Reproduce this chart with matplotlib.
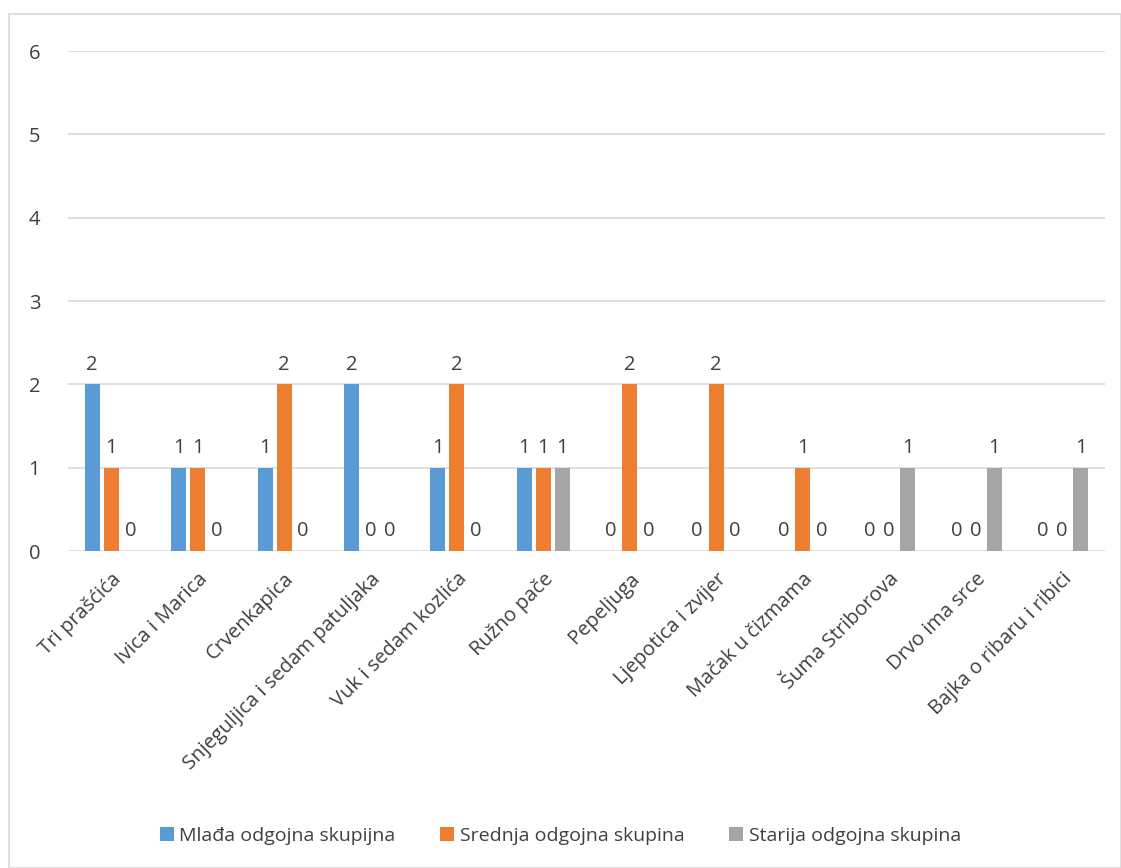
import matplotlib.pyplot as plt
import matplotlib.patches as patches
import numpy as np

plt.rcParams['font.family'] = ['Open Sans', 'DejaVu Sans']

bajke = ["Tri prašćića", "Ivica i Marica", "Crvenkapica", "Snjeguljica i sedam patuljaka",
         "Vuk i sedam kozlića", "Ružno pače", "Pepeljuga", "Ljepotica i zvijer",
         "Mačak u čizmama", "Šuma Striborova", "Drvo ima srce", "Bajka o ribaru i ribici"]
mlada = [2, 1, 1, 2, 1, 1, 0, 0, 0, 0, 0, 0]
srednja = [1, 1, 2, 0, 2, 1, 2, 2, 1, 0, 0, 0]
starija = [0, 0, 0, 0, 0, 1, 0, 0, 0, 1, 1, 1]

serije = [("Mlađa odgojna skupijna", mlada, "#5B9BD5"),
          ("Srednja odgojna skupina", srednja, "#ED7D31"),
          ("Starija odgojna skupina", starija, "#A5A5A5")]

fig = plt.figure(figsize=(11.21, 8.68), dpi=100)
ax = fig.add_axes([0.0607, 0.3652, 0.925, 0.576])

# okvir oko grafikona
fig.patches.append(patches.Rectangle((9/1121, 0), 1 - 9/1121, 1 - 14/868, transform=fig.transFigure,
                                     fill=False, edgecolor="#D9D9D9", lw=1.2))

x = np.arange(len(bajke))
w = 0.174
step = 0.22
tc = "#404040"
fs = 14.5
for i, (ime, vals, boja) in enumerate(serije):
    pos = x + (i - 1) * step
    ax.bar(pos, vals, width=w, color=boja, label=ime, zorder=3)
    for xp, v in zip(pos, vals):
        ax.annotate(str(v), (xp, v), xytext=(0, 7), textcoords="offset points",
                    ha="center", va="bottom", fontsize=fs, color=tc)

ax.set_xlim(-0.5, len(bajke) - 0.5)
ax.set_ylim(0, 6)
ax.set_yticks(range(7))
ax.grid(axis="y", color="#D9D9D9", lw=1.2, zorder=0)
for s in ax.spines.values():
    s.set_visible(False)
ax.tick_params(length=0, labelsize=fs, colors=tc)
ax.tick_params(axis="y", pad=20)
ax.set_xticks(x)
ax.set_xticklabels(bajke, rotation=45, ha="right", rotation_mode="anchor")
ax.tick_params(axis="x", pad=13)

fig.legend(loc="center", bbox_to_anchor=(0.5, 1 - 836/868), ncol=3, frameon=False,
           fontsize=14, labelcolor=tc, handlelength=0.7, handleheight=0.7,
           handletextpad=0.3, columnspacing=2.3)

fig.savefig("out.png", dpi=100)
